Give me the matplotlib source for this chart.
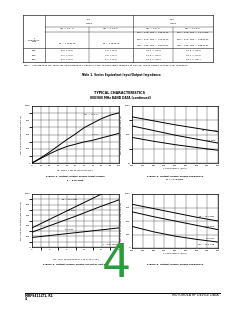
import matplotlib.pyplot as plt
import numpy as np

plt.rcParams['font.family'] = ['DejaVu Sans']

# ---- data ----
# Table 1
tbl_freq = ['806', '870', '960']
tbl_zin_75 = ['6.0 + j3.5', '5.2 + j4.5', '5.6 + j6.0']
tbl_zin_125 = ['4.0 + j1.5', '4.5 + j2.4', '6.1 + j2.5']
tbl_zol_75 = ['25.7 + j19.0', '30.9 + j20.0', '35.5 + j18.0']
tbl_zol_125 = ['20.5 + j22.5', '20.7 + j24.5', '20.1 + j25.7']

# Figure 2: Pout vs Pin, f = 870 MHz
pin = [0, 10, 20, 30, 40, 50, 60, 70, 80, 90, 100]
pout_125v = [0, 90, 190, 300, 410, 510, 620, 700, 780, 840, 880]
pout_75v = [0, 80, 160, 230, 290, 330, 370, 400, 440, 480, 520]

# Figure 4: Pout vs frequency, Vcc = 7.5 V (log axis)
freq4 = [800, 840, 880, 920, 960]
f4_150 = [417, 302, 219, 166, 126]
f4_100 = [200, 138, 95, 69, 50]
f4_50 = [79, 58, 44, 35, 28]

# Figure 3: Pout vs Vcc, f = 870 MHz
vcc = [4, 6.5, 9, 11.5, 14]
vcc_150 = [4, 6.5, 9, 11.5, 12]
f3_150 = [360, 560, 760, 960, 1000]
f3_100 = [280, 430, 580, 740, 890]
f3_50 = [180, 225, 270, 315, 360]

# Figure 5: Pout vs frequency, Vcc = 12.5 V
freq5 = [800, 840, 880, 920, 960]
f5_150 = [810, 730, 650, 570, 500]
f5_100 = [670, 580, 500, 420, 340]
f5_50 = [400, 300, 220, 160, 110]

W, H = 240, 310
fig = plt.figure(figsize=(W / 100, H / 100), dpi=100)
fig.patch.set_facecolor('white')

# page overlay in pixel coordinates
page = fig.add_axes([0, 0, 1, 1])
page.set_xlim(0, W)
page.set_ylim(H, 0)
page.axis('off')

fs = 1.7
lc = '#222222'

# ---- table ----
x0, x1, xa, xb, xc, xd = 23, 213, 45, 89, 133, 173
y0, yh1, yh2, yh3, y1 = 15, 27, 32, 48, 62
for y in [y0, y1]:
    page.plot([x0, x1], [y, y], color=lc, lw=0.5)
for y in [yh1, yh2]:
    page.plot([xa, x1], [y, y], color=lc, lw=0.3)
page.plot([x0, x1], [yh3, yh3], color=lc, lw=0.4)
for x in [x0, x1]:
    page.plot([x, x], [y0, y1], color=lc, lw=0.5)
page.plot([xa, xa], [y0, y1], color=lc, lw=0.4)
page.plot([xc, xc], [y0, y1], color=lc, lw=0.4)
page.plot([xb, xb], [yh1, y1], color=lc, lw=0.3)
page.plot([xd, xd], [yh1, y1], color=lc, lw=0.3)

page.text((xa + xc) / 2, 21, 'Z$_{in}$\nOhms', fontsize=fs, ha='center', va='center', linespacing=1.1)
page.text((xc + x1) / 2, 21, 'Z$_{OL}$*\nOhms', fontsize=fs, ha='center', va='center', linespacing=1.1)
for xm, s in zip([(xa + xb) / 2, (xb + xc) / 2, (xc + xd) / 2, (xd + x1) / 2],
                 ['V$_{CC}$ = 7.5 V', 'V$_{CC}$ = 12.5 V', 'V$_{CC}$ = 7.5 V', 'V$_{CC}$ = 12.5 V']):
    page.text(xm, 29.5, s, fontsize=fs, ha='center', va='center')
page.text((x0 + xa) / 2, 40, 'f\nFrequency\nMHz', fontsize=fs, ha='center', va='center', linespacing=1.2)
page.text((xa + xb) / 2, 44, 'P$_{in}$ = 150 mW', fontsize=fs, ha='center', va='center')
page.text((xb + xc) / 2, 44, 'P$_{in}$ = 100 mW', fontsize=fs, ha='center', va='center')
page.text((xc + xd) / 2, 40, 'P$_{out}$ = 806 MHz = 425 mW\nP$_{out}$ = 870 MHz = 470 mW\nP$_{out}$ = 960 MHz = 310 mW',
          fontsize=fs, ha='center', va='center', linespacing=1.3)
page.text((xd + x1) / 2, 40, 'P$_{out}$ = 806 MHz = 1.04 mW\nP$_{out}$ = 870 MHz = 900 mW\nP$_{out}$ = 960 MHz = 580 mW',
          fontsize=fs, ha='center', va='center', linespacing=1.3)
for i, yr in enumerate([50.5, 55, 59.5]):
    page.text((x0 + xa) / 2, yr, tbl_freq[i], fontsize=fs, ha='center', va='center')
    page.text((xa + xb) / 2, yr, tbl_zin_75[i], fontsize=fs, ha='center', va='center')
    page.text((xb + xc) / 2, yr, tbl_zin_125[i], fontsize=fs, ha='center', va='center')
    page.text((xc + xd) / 2, yr, tbl_zol_75[i], fontsize=fs, ha='center', va='center')
    page.text((xd + x1) / 2, yr, tbl_zol_125[i], fontsize=fs, ha='center', va='center')
page.text(x0, 66, 'Z$_{OL}$* = Conjugate of the optimum load impedance into which the device output operates '
          'at a given output power, voltage, and frequency.', fontsize=1.75, ha='left', va='center')
page.text(121, 75, 'Table 1. Series Equivalent Input/Output Impedance', fontsize=2.0,
          weight='bold', ha='center', va='center')

page.text(120, 93, 'TYPICAL CHARACTERISTICS', fontsize=2.4, weight='bold', ha='center', va='center')
page.text(120, 97.5, '800/900 MHz BAND DATA (continued)', fontsize=2.1, weight='bold', ha='center', va='center')


def make_axes(left, top, right, bottom):
    return fig.add_axes([left / W, 1 - bottom / H, (right - left) / W, (bottom - top) / H])


def style(ax):
    ax.tick_params(labelsize=1.6, length=0, pad=1.2, width=0.3)
    for s in ax.spines.values():
        s.set_linewidth(0.5)
    ax.grid(True, which='both', color='#444444', lw=0.3)
    ax.set_axisbelow(True)


lw = 0.7

# Figure 2
ax = make_axes(32, 106, 119, 163)
ax.plot(pin, pout_125v, color='k', lw=lw)
ax.plot(pin, pout_75v, color='k', lw=lw)
ax.set_xlim(0, 100)
ax.set_ylim(0, 1000)
ax.set_xticks(np.arange(0, 101, 10))
ax.set_yticks(np.arange(0, 1001, 250))
ax.set_yticks(np.arange(0, 1001, 125), minor=True)
style(ax)
ax.text(0.68, 0.84, 'V$_{CC}$ = 12.5 V', fontsize=1.6, transform=ax.transAxes, ha='center', va='center')
ax.text(0.72, 0.50, '7.5 V', fontsize=1.6, transform=ax.transAxes, ha='center', va='center')
ax.set_xlabel('P$_{in}$, INPUT POWER (MILLIWATTS)', fontsize=1.6, labelpad=1.2)
ax.set_ylabel('P$_{out}$, OUTPUT POWER (MILLIWATTS)', fontsize=1.6, labelpad=0.6)
page.text(75.5, 176, 'Figure 2. Output Power versus Input Power', fontsize=1.75, weight='bold', ha='center', va='center')
page.text(75.5, 180.5, 'f = 870 MHz', fontsize=1.75, weight='bold', ha='center', va='center')

# Figure 4
ax = make_axes(132, 106, 218, 163)
ax.plot(freq4, f4_150, color='k', lw=lw)
ax.plot(freq4, f4_100, color='k', lw=lw)
ax.plot(freq4, f4_50, color='k', lw=lw)
ax.set_yscale('log')
ax.set_xlim(800, 960)
ax.set_ylim(10, 1000)
ax.set_xticks(np.arange(800, 961, 20))
ax.set_yticks([10, 100, 1000])
ax.set_yticklabels(['10', '100', '1000'])
ax.set_yticks([31.6, 316], minor=True)
ax.yaxis.set_minor_formatter(plt.NullFormatter())
style(ax)
ax.text(0.91, 0.56, 'P$_{in}$ = 150 mW', fontsize=1.6, transform=ax.transAxes, ha='center', va='center')
ax.text(0.91, 0.40, '100 mW', fontsize=1.6, transform=ax.transAxes, ha='center', va='center')
ax.text(0.91, 0.24, '50 mW', fontsize=1.6, transform=ax.transAxes, ha='center', va='center')
ax.set_xlabel('f, FREQUENCY (MHz)', fontsize=1.6, labelpad=1.2)
ax.set_ylabel('P$_{out}$, OUTPUT POWER (MILLIWATTS)', fontsize=1.6, labelpad=0.6)
page.text(175, 176, 'Figure 4. Output Power versus Frequency', fontsize=1.75, weight='bold', ha='center', va='center')
page.text(175, 180.5, 'V$_{CC}$ = 7.5 Vdc', fontsize=1.75, weight='bold', ha='center', va='center')

# Figure 3
ax = make_axes(32, 194, 119, 247)
ax.plot(vcc_150, f3_150, color='k', lw=lw)
ax.plot(vcc, f3_100, color='k', lw=lw)
ax.plot(vcc, f3_50, color='k', lw=lw)
ax.set_xlim(4, 14)
ax.set_ylim(0, 1000)
ax.set_xticks(np.arange(4, 15, 2))
ax.set_xticks(np.arange(4, 15, 1), minor=True)
ax.set_yticks(np.arange(0, 1001, 200))
ax.set_yticks(np.arange(0, 1001, 100), minor=True)
style(ax)
ax.text(0.43, 0.88, 'P$_{in}$ = 150 mW', fontsize=1.6, transform=ax.transAxes, ha='center', va='center')
ax.text(0.45, 0.68, '100 mW', fontsize=1.6, transform=ax.transAxes, ha='center', va='center')
ax.text(0.43, 0.33, '50 mW', fontsize=1.6, transform=ax.transAxes, ha='center', va='center')
ax.text(0.97, 0.05, 'f = 870 MHz', fontsize=1.6, transform=ax.transAxes, ha='right', va='center')
ax.set_xlabel('V$_{CC}$, COLLECTOR SUPPLY VOLTAGE (Vdc)', fontsize=1.6, labelpad=1.2)
ax.set_ylabel('P$_{out}$, OUTPUT POWER (MILLIWATTS)', fontsize=1.6, labelpad=0.6)
page.text(75.5, 264, 'Figure 3. Output Power versus Collector Voltage', fontsize=1.75, weight='bold', ha='center', va='center')

# Figure 5
ax = make_axes(132, 194, 218, 248)
ax.plot(freq5, f5_150, color='k', lw=lw)
ax.plot(freq5, f5_100, color='k', lw=lw)
ax.plot(freq5, f5_50, color='k', lw=lw)
ax.set_xlim(800, 960)
ax.set_ylim(0, 1000)
ax.set_xticks(np.arange(800, 961, 20))
ax.set_yticks(np.arange(0, 1001, 250))
style(ax)
ax.text(0.87, 0.56, 'P$_{in}$ = 150 mW', fontsize=1.6, transform=ax.transAxes, ha='center', va='center')
ax.text(0.90, 0.40, '100 mW', fontsize=1.6, transform=ax.transAxes, ha='center', va='center')
ax.text(0.91, 0.17, '50 mW', fontsize=1.6, transform=ax.transAxes, ha='center', va='center')
ax.text(0.87, 0.05, 'V$_{CC}$ = 12.5 Vdc', fontsize=1.6, transform=ax.transAxes, ha='center', va='center')
ax.set_xlabel('f, FREQUENCY (MHz)', fontsize=1.6, labelpad=1.2)
ax.set_ylabel('P$_{out}$, OUTPUT POWER (MILLIWATTS)', fontsize=1.6, labelpad=0.6)
page.text(175, 264, 'Figure 5. Output Power versus Frequency', fontsize=1.75, weight='bold', ha='center', va='center')

# footer
page.plot([25, 220], [292.5, 292.5], color='k', lw=0.7)
page.text(25, 295.5, 'MRF9411LT1, R1', fontsize=2.2, weight='bold', ha='left', va='center')
page.text(25, 299.5, '4', fontsize=2.2, weight='bold', ha='left', va='center')
page.text(219, 295.5, 'MOTOROLA RF DEVICE DATA', fontsize=2.3, ha='right', va='center')

# big green page marker
big = fig.add_axes([0, 0, 1, 1], zorder=10)
big.set_xlim(0, W)
big.set_ylim(H, 0)
big.axis('off')
big.text(116.5, 264.5, '4', fontsize=33, color='#2e9a3c', ha='center', va='center')

fig.savefig('out.png', dpi=100, facecolor='white')
